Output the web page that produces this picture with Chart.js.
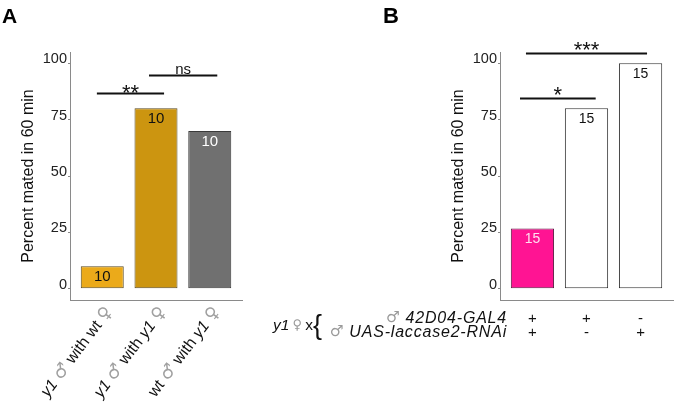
<!DOCTYPE html>
<html><head><meta charset="utf-8">
<script src="https://cdn.jsdelivr.net/npm/chart.js@4/dist/chart.umd.min.js"></script>
<style>
html,body{margin:0;padding:0;background:#fff;width:674px;height:404px;overflow:hidden}
#ca{position:absolute;left:0;top:0}
#cb{position:absolute;left:260px;top:0}
</style></head><body>
<canvas id="ca" width="260" height="404"></canvas>
<canvas id="cb" width="414" height="404"></canvas>
<script>
// ---------- data ----------
const yTicks = [0, 25, 50, 75, 100];
const yTitle = 'Percent mated in 60 min';

// Panel A
const groupsA = [1, 2, 3];
const valuesA = [10, 80, 70];
const countsA = ['10', '10', '10'];
const labelsA = [
  [{t:'y1', it:true}, {t:' '}, {t:'\u2642', sym:true}, {t:' with wt '}, {t:'\u2640', sym:true}],
  [{t:'y1', it:true}, {t:' '}, {t:'\u2642', sym:true}, {t:' with '}, {t:'y1', it:true}, {t:' '}, {t:'\u2640', sym:true}],
  [{t:'wt '}, {t:'\u2642', sym:true}, {t:' with '}, {t:'y1', it:true}, {t:' '}, {t:'\u2640', sym:true}]
];
const sigA = [
  {x1:0.9, x2:2.15, y:86.7, text:'**'},
  {x1:1.87, x2:3.14, y:94.8, text:'ns'}
];

// Panel B
const groupsB = [1, 2, 3];
const valuesB = [26.7, 80, 100];
const countsB = ['15', '15', '15'];
const sigB = [
  {x1:0.77, x2:2.17, y:84.5, text:'*'},
  {x1:0.88, x2:3.12, y:104.5, text:'***'}
];
const crossPrefix = [{t:'y1', it:true}, {t:'\u2009'}, {t:'\u2640', sym:true}, {t:'\u2009x'}];
const rowLabelsB = [
  [{t:'\u2642', sym:true}, {t:' 42D04-GAL4', it:true}],
  [{t:'\u2642', sym:true}, {t:' UAS-laccase2-RNAi', it:true}]
];
const genotypeB = [
  ['+', '+', '-'],
  ['+', '-', '+']
];

// ---------- styles ----------
const FONT = "'Liberation Sans', Arial, Helvetica, sans-serif";
const SYMFONT = "'DejaVu Sans', sans-serif";
const AXIS = '#8a8a8a';

function fontFor(p, size, symScale) {
  if (p.sym) return (size * symScale) + 'px ' + SYMFONT;
  return (p.it ? 'italic ' : '') + size + 'px ' + FONT;
}
function partsWidth(ctx, parts, size, symScale) {
  let w = 0;
  parts.forEach(p => { ctx.font = fontFor(p, size, symScale); w += ctx.measureText(p.t).width; });
  return w;
}
function drawParts(ctx, parts, size, symScale, x, y, color, symColor) {
  let cx = x;
  parts.forEach(p => {
    ctx.font = fontFor(p, size, symScale);
    ctx.fillStyle = p.sym ? symColor : color;
    ctx.fillText(p.t, cx, y);
    cx += ctx.measureText(p.t).width;
  });
}

const annot = {
  id: 'annot',
  afterDraw(chart, args, o) {
    const ctx = chart.ctx, xs = chart.scales.x, ys = chart.scales.y;
    const area = chart.chartArea;
    const meta = chart.getDatasetMeta(0);
    ctx.save();
    // counts inside bars
    ctx.font = o.countSize + 'px ' + FONT;
    ctx.textAlign = 'center'; ctx.textBaseline = 'middle';
    meta.data.forEach((bar, i) => {
      ctx.fillStyle = o.countColors[i];
      ctx.fillText(o.counts[i], bar.x, bar.y + 10.5);
    });
    // significance brackets
    o.sig.forEach(s => {
      const x1 = xs.getPixelForValue(s.x1), x2 = xs.getPixelForValue(s.x2), y = Math.round(ys.getPixelForValue(s.y)) + 0.5;
      ctx.strokeStyle = '#111'; ctx.lineWidth = 1.8;
      ctx.beginPath(); ctx.moveTo(x1, y); ctx.lineTo(x2, y); ctx.stroke();
      const isStar = s.text.indexOf('*') >= 0;
      ctx.font = (isStar ? o.starSize : o.nsSize) + 'px ' + FONT;
      ctx.textAlign = 'center'; ctx.textBaseline = 'alphabetic';
      ctx.fillStyle = '#111';
      const m = ctx.measureText(s.text);
      const gap = isStar ? o.starGap : o.nsGap;
      ctx.fillText(s.text, (x1 + x2) / 2, y - gap - m.actualBoundingBoxDescent);
    });
    // panel letter
    ctx.font = 'bold ' + o.letterSize + 'px ' + FONT;
    ctx.textAlign = 'left'; ctx.textBaseline = 'alphabetic'; ctx.fillStyle = '#000';
    ctx.fillText(o.letter, o.letterX, 23);
    // rotated category labels
    if (o.xLabels) {
      ctx.textAlign = 'left'; ctx.textBaseline = 'middle';
      o.xLabels.forEach((parts, i) => {
        const px = xs.getPixelForValue(o.groups[i]);
        const w = partsWidth(ctx, parts, o.xLabelSize, 1.1);
        ctx.save();
        ctx.translate(px + 7, area.bottom + 9);
        ctx.rotate(-o.xLabelAngle * Math.PI / 180);
        drawParts(ctx, parts, o.xLabelSize, 1.1, -w, 0, '#111', '#a0a0a0');
        ctx.restore();
      });
    }
    // genotype table
    if (o.table) {
      const rowY = [area.bottom + 18.5, area.bottom + 32.5];
      ctx.textBaseline = 'middle';
      o.table.rows.forEach((parts, r) => {
        ctx.letterSpacing = '0.8px';
        const w = partsWidth(ctx, parts, 16, 0.95);
        ctx.textAlign = 'left';
        drawParts(ctx, parts, 16, 0.95, area.left + 7 - w, rowY[r], '#111', '#9a9a9a');
        ctx.letterSpacing = '0px';
        ctx.textAlign = 'center';
        ctx.font = '15px ' + FONT; ctx.fillStyle = '#111';
        o.table.geno[r].forEach((g, j) => {
          ctx.fillText(g, xs.getPixelForValue(o.groups[j]), rowY[r]);
        });
      });
      ctx.textAlign = 'left';
      drawParts(ctx, o.table.prefix, 15.5, 0.85, 13, (rowY[0] + rowY[1]) / 2, '#111', '#9a9a9a');
      ctx.font = '27px ' + FONT; ctx.fillStyle = '#111';
      ctx.fillText('{', 53, (rowY[0] + rowY[1]) / 2 + 1);
    }
    ctx.restore();
  }
};

function makeChart(id, groups, values, colors, borders, leftPad, rightPad, annotOpts) {
  return new Chart(document.getElementById(id), {
    type: 'bar',
    data: {
      datasets: [{
        data: groups.map((g, i) => ({x: g, y: values[i]})),
        backgroundColor: colors,
        borderColor: borders,
        borderWidth: 1,
        borderSkipped: false,
        categoryPercentage: 0.8,
        barPercentage: 1.0
      }]
    },
    options: {
      responsive: false,
      animation: false,
      events: [],
      layout: {padding: {left: leftPad, right: rightPad, top: 52, bottom: 0}},
      plugins: {legend: {display: false}, tooltip: {enabled: false}, annot: annotOpts},
      scales: {
        x: {
          type: 'linear', min: 0.4, max: 3.6, offset: false,
          afterBuildTicks: s => { s.ticks = groups.map(v => ({value: v})); },
          afterFit: s => { s.height = 104; },
          ticks: {display: false},
          grid: {display: false},
          border: {display: true, color: AXIS, width: 1}
        },
        y: {
          min: -5, max: 105,
          afterBuildTicks: s => { s.ticks = yTicks.map(v => ({value: v})); },
          afterFit: s => { s.width = 70; },
          ticks: {color: '#222', font: {family: FONT, size: 14.5}, padding: 1, labelOffset: -4},
          grid: {display: true, drawOnChartArea: false, tickLength: 2, color: AXIS},
          border: {display: true, color: AXIS, width: 1},
          title: {display: true, text: yTitle, color: '#111', font: {family: FONT, size: 16}, padding: {top: 18.5, bottom: 0}}
        }
      }
    },
    plugins: [annot]
  });
}

makeChart('ca', groupsA, valuesA, ['#EBAA1A', '#CC9510', '#707070'], ['#5a4a20', '#5a4a20', '#3a3a3a'], 0, 18, {
  counts: countsA, countColors: ['#111', '#111', '#fff'], countSize: 15,
  sig: sigA, starSize: 22, nsSize: 15, starGap: 0.5, nsGap: 2,
  letter: 'A', letterX: 2, letterSize: 21,
  xLabels: labelsA, groups: groupsA, xLabelSize: 16, xLabelAngle: 53
});
makeChart('cb', groupsB, valuesB, ['#FF1493', '#FFFFFF', '#FFFFFF'], ['#5a1a40', '#333', '#333'], 170, 1, {
  counts: countsB, countColors: ['#ffe0f0', '#111', '#111'], countSize: 14,
  sig: sigB, starSize: 22, nsSize: 15, starGap: 4, nsGap: 2,
  letter: 'B', letterX: 123, letterSize: 22,
  groups: groupsB,
  table: {rows: rowLabelsB, geno: genotypeB, prefix: crossPrefix}
});
</script>
</body></html>
